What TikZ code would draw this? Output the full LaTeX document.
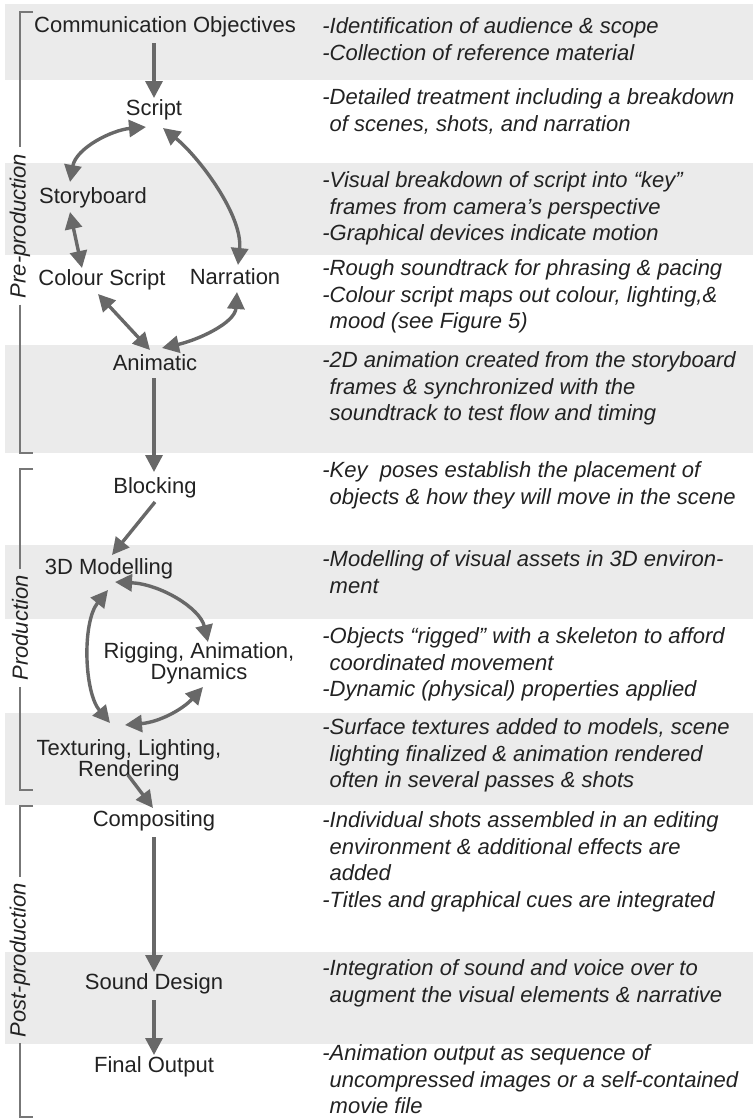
\documentclass[tikz,border=0pt]{standalone}
\usepackage{fontspec}
\setmainfont{Liberation Sans}
\usetikzlibrary{arrows.meta}
\definecolor{band}{HTML}{EBEBEB}
\definecolor{arr}{HTML}{686868}
\definecolor{txt}{HTML}{222222}
\definecolor{brk}{HTML}{777777}
\begin{document}
\begin{tikzpicture}[x=0.5pt,y=-0.5pt,
  stage/.style={font=\fontsize{11}{10.5}\selectfont, text=txt, inner sep=0pt, align=center},
  desc/.style={font=\fontsize{11}{13.4}\selectfont\itshape, text=txt, inner sep=0pt, align=left, anchor=north west, execute at begin node=\strut},
  flow/.style={draw=arr, line width=1.7pt, -{Triangle[length=8.5pt,width=8.5pt]}},
  both/.style={draw=arr, line width=1.7pt, {Triangle[length=8.5pt,width=8.5pt]}-{Triangle[length=8.5pt,width=8.5pt]}},
  phase/.style={font=\fontsize{11}{13}\selectfont\itshape, text=txt, rotate=90, inner sep=3pt},
  brack/.style={draw=brk, line width=1.2pt}
]
\useasboundingbox (0,0) rectangle (753,1120);
% bands
\fill[band] (5,4) rectangle (753,80);
\fill[band] (5,163) rectangle (753,255);
\fill[band] (5,345) rectangle (753,453);
\fill[band] (5,545) rectangle (753,619);
\fill[band] (5,713) rectangle (753,805);
\fill[band] (5,952) rectangle (753,1044);

% phase brackets
\node[phase] (pre) at (20,226) {Pre-production};
\draw[brack] (33,12) -- (20,12) -- (pre.east);
\draw[brack] (pre.west) -- (20,453) -- (33,453);
\node[phase] (prod) at (20,628) {Production};
\draw[brack] (33,469) -- (20,469) -- (prod.east);
\draw[brack] (prod.west) -- (20,790) -- (33,790);
\node[phase] (post) at (20,960) {Post-production};
\draw[brack] (33,806) -- (20,806) -- (post.east);
\draw[brack] (post.west) -- (20,1117) -- (33,1117);

% stages
\node[stage] (comm) at (165,27) {Communication Objectives};
\node[stage] (script) at (154,110) {Script};
\node[stage] (story) at (93,198) {Storyboard};
\node[stage] (cscript) at (102,280) {Colour Script};
\node[stage] (narr) at (235,277) {Narration};
\node[stage] (anim) at (155,363) {Animatic};
\node[stage] (block) at (155,488) {Blocking};
\node[stage] (model) at (109,569) {3D Modelling};
\node[stage] (rig) at (199,663) {Rigging, Animation,\\Dynamics};
\node[stage] (tex) at (129,760) {Texturing, Lighting,\\Rendering};
\node[stage] (comp) at (154,821) {Compositing};
\node[stage] (sound) at (154,984) {Sound Design};
\node[stage] (final) at (154,1067) {Final Output};

% connectors
\draw[flow] ([shift={(-11,16)}]comm.center) -- ([shift={(0,-12)}]script.center);
\draw[both] ([shift={(-8,17)}]script.center) .. controls (112,130) and (76,148) .. ([shift={(-23,-16)}]story.center);
\draw[both] ([shift={(9,18)}]script.center) .. controls (198,156) and (243,215) .. ([shift={(3,-12)}]narr.center);
\draw[both] ([shift={(-23,14)}]story.center) -- ([shift={(-20,-12)}]cscript.center);
\draw[both] ([shift={(-4,14)}]cscript.center) -- ([shift={(-5,-13)}]anim.center);
\draw[both] ([shift={(2,15)}]narr.center) .. controls (235,323) and (198,340) .. ([shift={(7,-15)}]anim.center);
\draw[flow] ([shift={(-1,15)}]anim.center) -- ([shift={(-1,-16)}]block.center);
\draw[flow] ([shift={(0,14)}]block.center) -- ([shift={(3,-14)}]model.center);
\draw[both] ([shift={(6,13)}]model.center) .. controls (160,584) and (200,608) .. ([shift={(9,-21)}]rig.center);
\draw[both] ([shift={(-1,21)}]model.center) .. controls (82,622) and (84,692) .. ([shift={(-19,-37)}]tex.center);
\draw[both] ([shift={(4,24)}]rig.center) .. controls (183,709) and (160,722) .. ([shift={(-4,-35)}]tex.center);
\draw[flow] ([shift={(-1,15)}]tex.center) -- ([shift={(-1,-13)}]comp.center);
\draw[flow] ([shift={(0,16)}]comp.center) -- ([shift={(0,-12)}]sound.center);
\draw[flow] ([shift={(0,16)}]sound.center) -- ([shift={(0,-12)}]final.center);

% descriptions
\node[desc] (d1) at (322,17) {-Identification of audience \& scope\\-Collection of reference material};
\node[desc] (d2) at (322,88) {-Detailed treatment including a breakdown\\\hphantom{-}of scenes, shots, and narration};
\node[desc] (d3) at (322,171) {-Visual breakdown of script into “key”\\\hphantom{-}frames from camera’s perspective\\-Graphical devices indicate motion};
\node[desc] (d4) at (322,259) {-Rough soundtrack for phrasing \& pacing\\-Colour script maps out colour, lighting,\&\\\hphantom{-}mood (see Figure 5)};
\node[desc] (d5) at (322,351) {-2D animation created from the storyboard\\\hphantom{-}frames \& synchronized with the\\\hphantom{-}soundtrack to test flow and timing};
\node[desc] (d6) at (322,461) {-Key\ \ poses establish the placement of\\\hphantom{-}objects \& how they will move in the scene};
\node[desc] (d7) at (322,550) {-Modelling of visual assets in 3D environ-\\\hphantom{-}ment};
\node[desc] (d8) at (322,627) {-Objects “rigged” with a skeleton to afford\\\hphantom{-}coordinated movement\\-Dynamic (physical) properties applied};
\node[desc] (d9) at (322,718) {-Surface textures added to models, scene\\\hphantom{-}lighting finalized \& animation rendered\\\hphantom{-}often in several passes \& shots};
\node[desc] (d10) at (322,811) {-Individual shots assembled in an editing\\\hphantom{-}environment \& additional effects are\\\hphantom{-}added\\-Titles and graphical cues are integrated};
\node[desc] (d11) at (322,959) {-Integration of sound and voice over to\\\hphantom{-}augment the visual elements \& narrative};
\node[desc] (d12) at (322,1044) {-Animation output as sequence of\\\hphantom{-}uncompressed images or a self-contained\\\hphantom{-}movie file};
\end{tikzpicture}
\end{document}
